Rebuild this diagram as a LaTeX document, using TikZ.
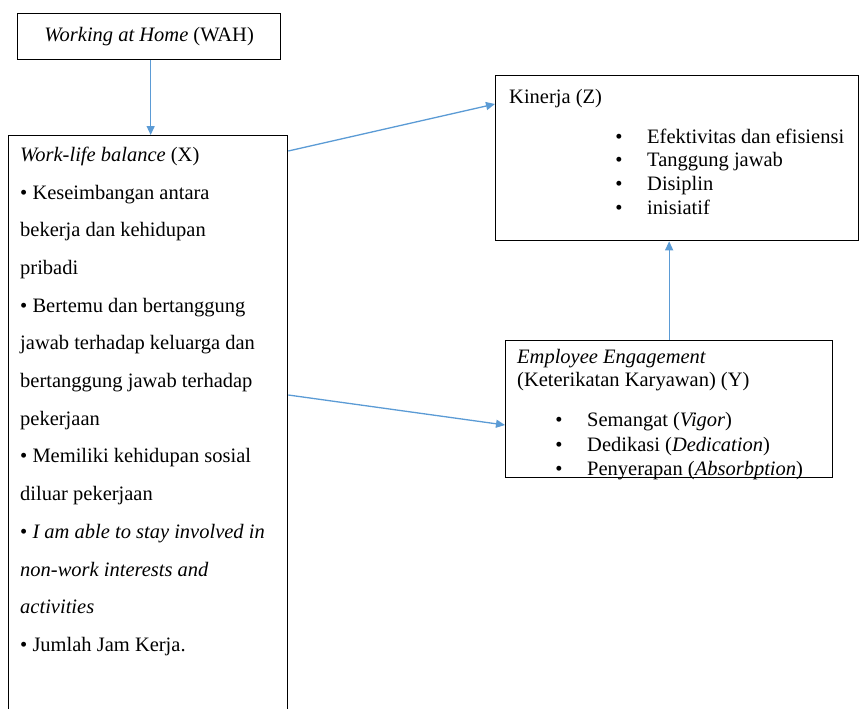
\documentclass[tikz,border=0pt]{standalone}
\usepackage{fontspec}
\setmainfont{Liberation Serif}
\usetikzlibrary{arrows.meta}
\definecolor{arr}{RGB}{91,155,213}
\tikzset{
  box/.style={draw=black, line width=1.3pt, inner sep=0pt, anchor=north west},
  conn/.style={draw=arr, line width=1.3pt, -{Triangle[length=9pt,width=8pt]}},
  txt/.style={anchor=base west, inner sep=0pt, font=\fontsize{20.5}{24}\selectfont},
  bul/.style={anchor=base, inner sep=0pt, font=\fontsize{20.5}{24}\selectfont},
}
\begin{document}
\begin{tikzpicture}[x=1pt,y=-1pt]
\useasboundingbox (0,0) rectangle (859,709);
\clip (0,0) rectangle (859,709);
% boxes
\node[box, minimum width=263pt, minimum height=46pt, font=\fontsize{20.5}{24}\selectfont] (wah) at (17,13) {\textit{Working at Home} (WAH)};
\node[box, minimum width=279pt, minimum height=620pt] (x) at (8,135) {};
\node[box, minimum width=363pt, minimum height=165pt] (kin) at (495,75) {};
\node[box, minimum width=327pt, minimum height=137pt] (ee) at (505,340) {};
% X box text
\foreach \t [count=\i] / \yy in {
  {\textit{Work-life balance} (X)}/155,
  {• Keseimbangan antara}/193,
  {bekerja dan kehidupan}/230,
  {pribadi}/268,
  {• Bertemu dan bertanggung}/306,
  {jawab terhadap keluarga dan}/343,
  {bertanggung jawab terhadap}/381,
  {pekerjaan}/419,
  {• Memiliki kehidupan sosial}/456,
  {diluar pekerjaan}/494,
  {• \textit{I am able to stay involved in}}/532,
  {\textit{non-work interests and}}/570,
  {\textit{activities}}/607,
  {• Jumlah Jam Kerja.}/645}
  {\node[txt] (xl\i) at (20,\yy+6.5) {\t};}
% Kinerja text
\node[txt] (kt) at (509,103) {Kinerja (Z)};
\foreach \t [count=\i] / \yy in {
  {Efektivitas dan efisiensi}/137,
  {Tanggung jawab}/160,
  {Disiplin}/184,
  {inisiatif}/208}
  {\node[bul] (kb\i) at (619,\yy+6.5) {•};
   \node[txt] (kl\i) at (647,\yy+6.5) {\t};}
% EE text
\node[txt] (et1) at (517,363.5) {\textit{Employee Engagement}};
\node[txt] (et2) at (517,386.5) {(Keterikatan Karyawan) (Y)};
\foreach \t [count=\i] / \yy in {
  {Semangat (\textit{Vigor})}/420,
  {Dedikasi (\textit{Dedication})}/445,
  {Penyerapan (\textit{Absorbption})}/469}
  {\node[bul] (eb\i) at (559,\yy+6.5) {•};
   \node[txt] (el\i) at (587,\yy+6.5) {\t};}
% connectors
\draw[conn] ([xshift=1.5pt]wah.south) -- ([xshift=1.5pt]wah.south |- x.north);
\draw[conn] ([yshift=-16pt]x.north east) -- ([yshift=-29pt]kin.north west);
\draw[conn] ([yshift=-260pt]x.north east) -- ([yshift=-85pt]ee.north west);
\draw[conn] (ee.north) -- (ee.north |- kin.south);
\end{tikzpicture}
\end{document}
